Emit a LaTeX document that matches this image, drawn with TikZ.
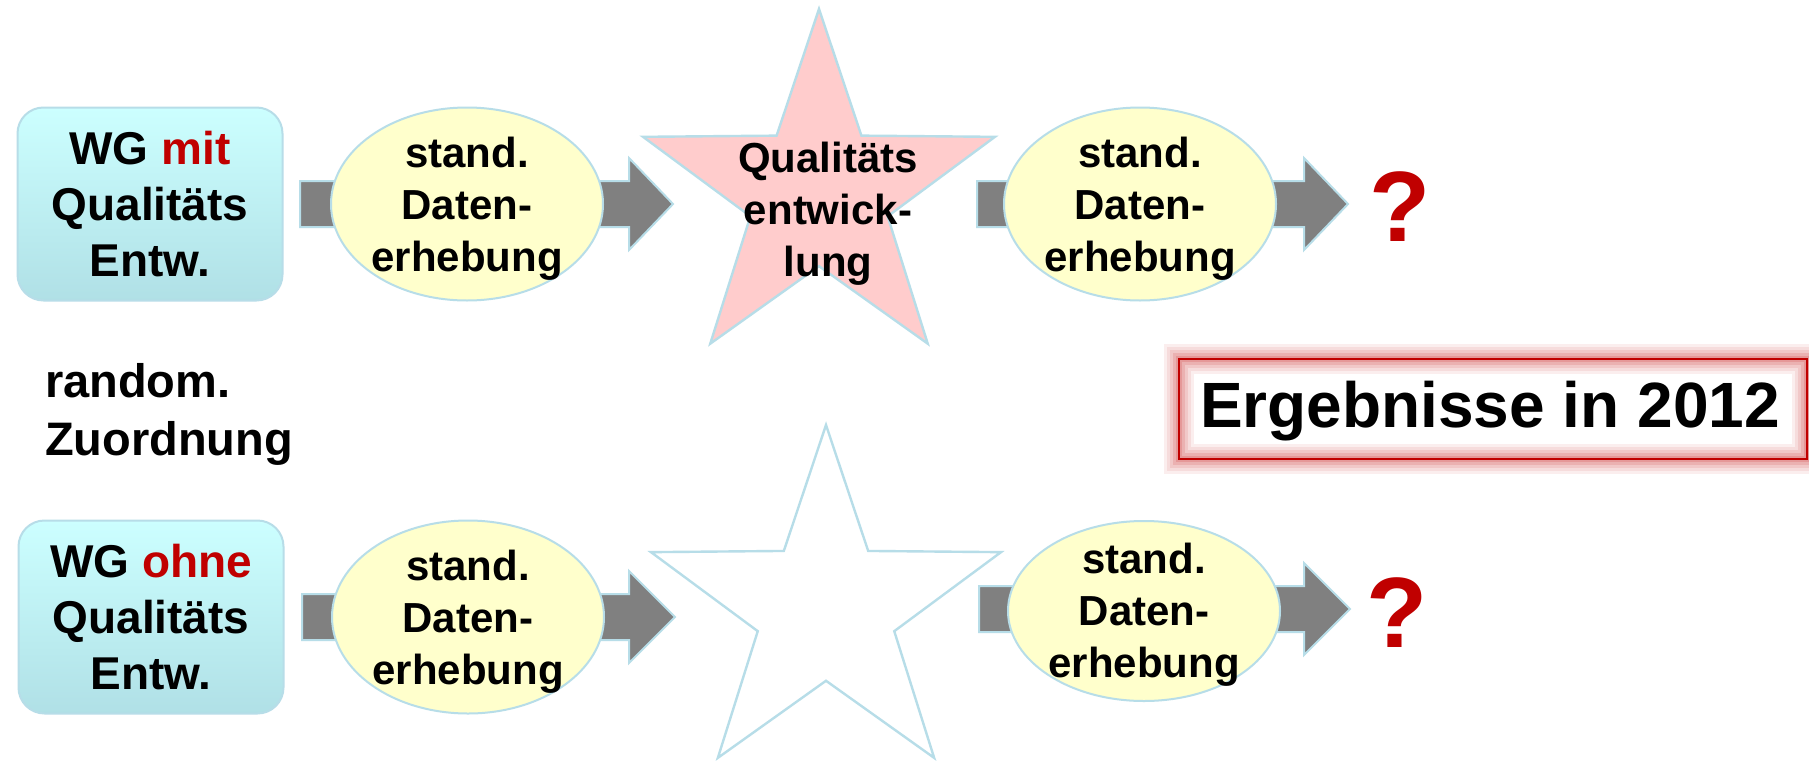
\documentclass[tikz,border=0pt]{standalone}
\usepackage{fontspec}
\setmainfont{Liberation Sans}
\usetikzlibrary{shapes.geometric,calc}
\definecolor{edgeblue}{HTML}{B7DDE8}
\definecolor{boxtop}{HTML}{CCFFFF}
\definecolor{boxbot}{HTML}{B0E0E6}
\definecolor{ellfill}{HTML}{FFFFCC}
\definecolor{starfill}{HTML}{FFCCCC}
\definecolor{arrowgray}{HTML}{808080}
\definecolor{darkred}{HTML}{C00000}
\definecolor{glowred}{HTML}{D86060}
\tikzset{
  groupbox/.style={draw=edgeblue, line width=1pt, rounded corners=13pt,
    top color=boxtop, bottom color=boxbot, minimum width=132.5pt, minimum height=96.5pt,
    align=center, font=\bfseries\fontsize{23}{28}\selectfont},
  dataell/.style={ellipse, draw=edgeblue, line width=1pt, fill=ellfill, inner sep=0pt,
    minimum width=136pt, minimum height=96.5pt},
  elltext/.style={align=center, font=\bfseries\fontsize{21}{26}\selectfont},
  blockarrow/.style={fill=arrowgray, draw=edgeblue, line width=1pt},
  starshape/.style={draw=edgeblue, line width=1.2pt, line join=miter},
  qmark/.style={text=darkred, font=\bfseries\fontsize{50}{60}\selectfont},
}
\newcommand\blockarr[4]{%
  \draw[blockarrow] (#1,#4-23) -- (#2,#4-23) -- (#2,#4-46) -- (#3,#4) -- (#2,#4+46) -- (#2,#4+23) -- (#1,#4+23) -- cycle;}
\newcommand\mystar[4]{% cx, cy, R, style (y axis points down)
  \draw[#4] (#1,#2) ++(-90:#3) -- ($(#1,#2)+(-54:0.39*#3)$) -- ($(#1,#2)+(-18:#3)$) -- ($(#1,#2)+(18:0.39*#3)$)
   -- ($(#1,#2)+(54:#3)$) -- ($(#1,#2)+(90:0.39*#3)$) -- ($(#1,#2)+(126:#3)$) -- ($(#1,#2)+(162:0.39*#3)$)
   -- ($(#1,#2)+(198:#3)$) -- ($(#1,#2)+(234:0.39*#3)$) -- cycle;}
\begin{document}
\begin{tikzpicture}[x=0.5pt, y=-0.5pt]
\useasboundingbox[fill=white] (0,0) rectangle (1809,760);

% ---------- row 1 ----------
\node[groupbox] (box1) at (150,204) {WG \textcolor{darkred}{mit}\\Qualitäts\\Entw.};
\blockarr{300}{629}{673}{204}
\node[dataell] (ell1) at (467,204) {};
\node[elltext] (ell1t) at ($(ell1)+(0,5)$) {stand.\\Daten-\\erhebung};
\mystar{819}{194}{185}{starshape, fill=starfill}
\coordinate (star1) at (819,194);
\node[elltext] (star1t) at (828,214) {Qualitäts\\entwick-\\lung};
\blockarr{977}{1304}{1348}{204}
\node[dataell] (ell2) at (1140,204) {};
\node[elltext] (ell2t) at ($(ell2)+(0,5)$) {stand.\\Daten-\\erhebung};
\node[qmark] (q1) at (1400,207) {?};

% ---------- middle ----------
\node[anchor=west, align=left, font=\bfseries\fontsize{23.5}{29}\selectfont] (rand) at (38,414) {random.\\Zuordnung};

\foreach \w/\o in {30/0.10, 24/0.12, 18/0.16, 12/0.22, 6/0.3}{
  \draw[glowred, opacity=\o, line width=\w*0.5pt] (1179,359) rectangle (1807,459);
}
\draw[darkred, line width=1.2pt] (1179,359) rectangle (1807,459);
\node[font=\bfseries\fontsize{32}{38}\selectfont] (res) at (1490,411) {Ergebnisse in 2012};

% ---------- row 2 ----------
\node[groupbox] (box2) at (151,617) {WG \textcolor{darkred}{ohne}\\Qualitäts\\Entw.};
\blockarr{302}{629}{675}{617}
\node[dataell] (ell3) at (468,617) {};
\node[elltext] (ell3t) at ($(ell3)+(0,5)$) {stand.\\Daten-\\erhebung};
\mystar{826}{609}{184}{starshape, fill=white}
\coordinate (star2) at (826,609);
\blockarr{979}{1304}{1350}{609}
\node[dataell, minimum height=90pt] (ell4) at (1144,611) {};
\node[elltext] (ell4t) at ($(ell4)+(0,4)$) {stand.\\Daten-\\erhebung};
\node[qmark] (q2) at (1397,613) {?};
\end{tikzpicture}
\end{document}
